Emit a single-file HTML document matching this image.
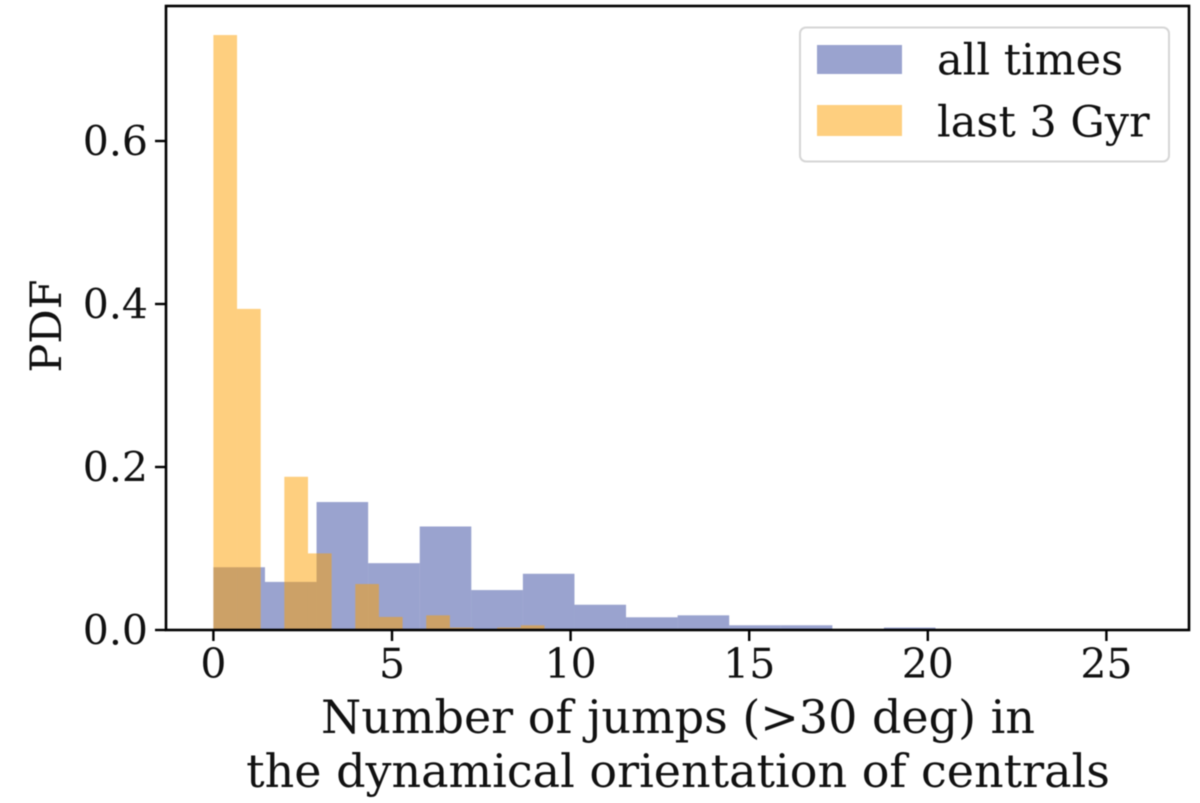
<!DOCTYPE html>
<html lang="en">
<head>
<meta charset="utf-8">
<title>Number of jumps histogram</title>
<style>
html,body{margin:0;padding:0;background:#fff;width:1200px;height:803px;overflow:hidden}
svg{display:block;filter:blur(0.5px)}
text{font-family:"DejaVu Serif","Liberation Serif",serif;fill:#111}
</style>
</head>
<body>
<svg id="chart" xmlns="http://www.w3.org/2000/svg" width="1200" height="803" viewBox="0 0 1200 803">
  <rect x="0" y="0" width="1200" height="803" fill="#fff"/>
  <g id="bars-all"></g>
  <g id="bars-last"></g>
  <g id="ticks"></g>
  <rect x="166" y="6" width="1023" height="624" fill="none" stroke="#000" stroke-width="2.6"/>
  <text transform="translate(61,326) rotate(-90)" text-anchor="middle" font-size="43">PDF</text>
  <text x="678" y="733" text-anchor="middle" font-size="46">Number of jumps (&gt;30 deg) in</text>
  <text x="678" y="787" text-anchor="middle" font-size="46">the dynamical orientation of centrals</text>
  <g>
    <rect x="800" y="27.5" width="369" height="134" rx="6" fill="#fff" fill-opacity="0.85" stroke="#d6d6d6" stroke-width="2"/>
    <rect x="817" y="45" width="85" height="29" fill="#9aa3cf"/>
    <text x="937" y="74.5" font-size="43">all times</text>
    <rect x="817" y="105" width="85" height="31" fill="#fecf7f"/>
    <text x="937" y="136.5" font-size="43">last 3 Gyr</text>
  </g>
</svg>
<script>
const allTimesBinWidth = 1.444;
const allTimesValues = [0.077, 0.059, 0.157, 0.082, 0.127, 0.049, 0.069, 0.031, 0.0156, 0.018, 0.0058, 0.0058, 0, 0.003, 0, 0, 0, 0];
const lastGyrBinWidth = 0.662;
const lastGyrValues = [0.73, 0.394, 0, 0.188, 0.094, 0, 0.0564, 0.016, 0, 0.018, 0.003, 0, 0.003, 0.0058];
const xTickValues = [0, 5, 10, 15, 20, 25];
const yTickValues = [0, 0.2, 0.4, 0.6];
const yTickLabels = ['0.0', '0.2', '0.4', '0.6'];

const NS = 'http://www.w3.org/2000/svg';
function xScale(v) { return 213.4 + v * 35.72; }
function yScale(v) { return 630 - v * 815; }

function drawBars(groupId, values, binWidth, fill, name) {
  const group = document.getElementById(groupId);
  values.forEach(function (value, i) {
    if (value <= 0) return;
    const x0 = xScale(i * binWidth);
    const x1 = xScale((i + 1) * binWidth);
    const y = yScale(value);
    const rect = document.createElementNS(NS, 'rect');
    rect.setAttribute('x', x0);
    rect.setAttribute('y', y);
    rect.setAttribute('width', x1 - x0);
    rect.setAttribute('height', yScale(0) - y);
    rect.setAttribute('fill', fill);
    rect.setAttribute('fill-opacity', '0.5');
    
    
    group.appendChild(rect);
  });
}
drawBars('bars-all', allTimesValues, allTimesBinWidth, 'rgb(53,71,159)', 'all-times');
drawBars('bars-last', lastGyrValues, lastGyrBinWidth, 'rgb(254,160,0)', 'last-3-gyr');

const tickGroup = document.getElementById('ticks');
function addTick(x1, y1, x2, y2, name) {
  const line = document.createElementNS(NS, 'line');
  line.setAttribute('x1', x1);
  line.setAttribute('y1', y1);
  line.setAttribute('x2', x2);
  line.setAttribute('y2', y2);
  line.setAttribute('stroke', '#000');
  line.setAttribute('stroke-width', '2.4');
  
  
  tickGroup.appendChild(line);
}
function addLabel(x, y, anchor, content, name) {
  const label = document.createElementNS(NS, 'text');
  label.setAttribute('x', x);
  label.setAttribute('y', y);
  label.setAttribute('text-anchor', anchor);
  label.setAttribute('font-size', '41');
  label.textContent = content;
  
  
  tickGroup.appendChild(label);
}
xTickValues.forEach(function (v) {
  const x = xScale(v);
  addTick(x, 630, x, 641, 'x-tick-' + v);
  addLabel(x, 678, 'middle', String(v), 'x-tick-label-' + v);
});
yTickValues.forEach(function (v, i) {
  const y = yScale(v);
  addTick(166, y, 155, y, 'y-tick-' + yTickLabels[i]);
  addLabel(148, y + 14.5, 'end', yTickLabels[i], 'y-tick-label-' + yTickLabels[i]);
});
</script>
</body>
</html>
